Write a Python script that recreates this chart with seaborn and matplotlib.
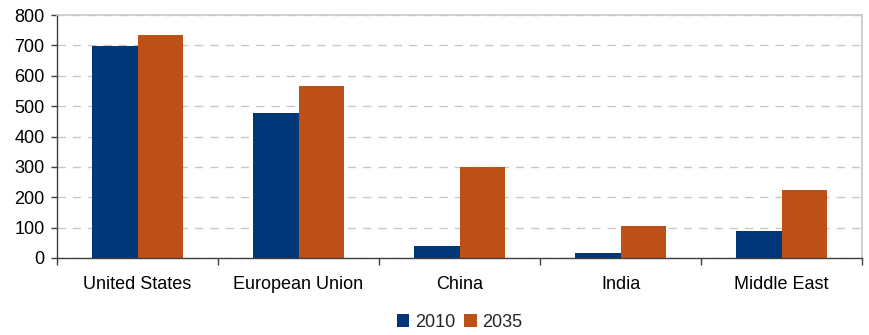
import matplotlib
matplotlib.use("Agg")
import matplotlib.pyplot as plt
import seaborn as sns
import pandas as pd
import numpy as np

regions = ["United States", "European Union", "China", "India", "Middle East"]
years = ["2010", "2035"]
values_2010 = [699, 478, 40, 16, 89]
values_2035 = [734, 566, 300, 105, 224]
colors = ["#003778", "#BD5019"]

df = pd.DataFrame({
    "region": regions * 2,
    "year": [years[0]] * len(regions) + [years[1]] * len(regions),
    "value": values_2010 + values_2035,
})

sns.set_theme(style="white")
plt.rcParams["font.family"] = ["Liberation Sans", "DejaVu Sans"]

fig = plt.figure(figsize=(8.69, 3.35), dpi=100)
ax = fig.add_axes([0.0656, 0.23, 0.9264, 0.725])

sns.barplot(data=df, x="region", y="value", hue="year", palette=colors,
            width=0.57, saturation=1, ax=ax, legend=True, linewidth=0)

ax.set_ylim(0, 800)
ax.set_xlim(-0.5, len(regions) - 0.5)
ax.set_yticks(np.arange(0, 801, 100))
ax.set_xlabel("")
ax.set_ylabel("")
ax.yaxis.grid(True, linestyle=(0, (6, 5)), color="#c8c8c8", linewidth=1)
ax.set_axisbelow(True)

for s in ["top", "right"]:
    ax.spines[s].set_color("#c8c8c8")
    ax.spines[s].set_linewidth(1.2)
for s in ["left", "bottom"]:
    ax.spines[s].set_color("#404040")
    ax.spines[s].set_linewidth(1.0)

ax.tick_params(axis="y", which="major", direction="out", length=4, width=1,
               color="#404040", labelsize=13, labelcolor="black", left=True, pad=5)
ax.tick_params(axis="x", which="major", length=0, labelsize=13, labelcolor="black", pad=13)
ax.set_xticks(np.arange(-0.5, len(regions)), minor=True)
ax.tick_params(axis="x", which="minor", direction="out", length=5, width=1,
               color="#404040", bottom=True)

handles, labels = ax.get_legend_handles_labels()
ax.legend(handles, labels, loc="center", bbox_to_anchor=(0.5, -0.265),
          ncol=2, frameon=False, fontsize=13, handlelength=0.7, handleheight=0.7,
          handletextpad=0.3, columnspacing=0.5, borderaxespad=0)

fig.savefig("out.png", dpi=100)
